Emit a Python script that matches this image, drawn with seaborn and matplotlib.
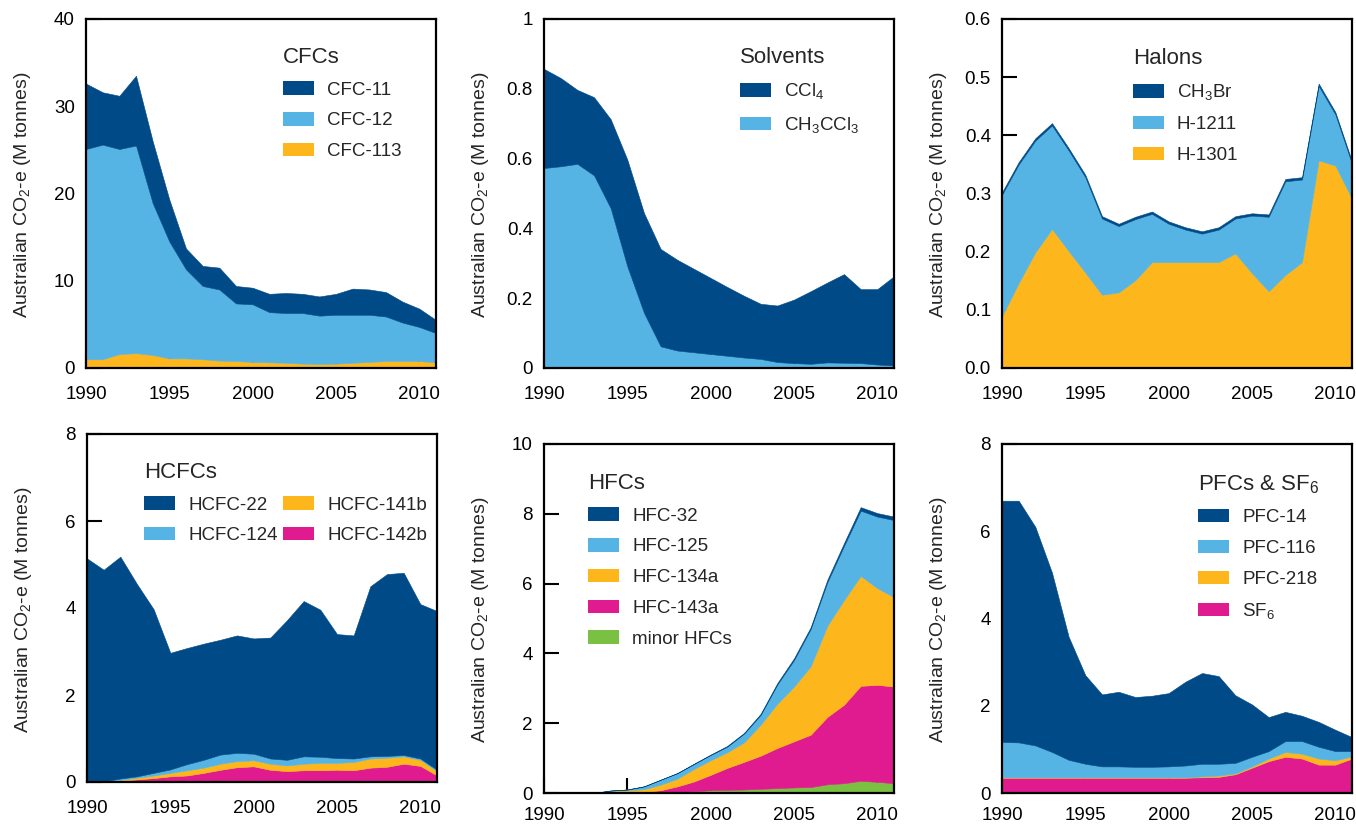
import matplotlib
matplotlib.use("Agg")
import matplotlib.pyplot as plt
from matplotlib.patches import Patch
from matplotlib.ticker import FixedLocator, FixedFormatter
import seaborn as sns

years = list(range(1990, 2012))

# CFCs (M tonnes CO2-e)
cfc_11 = [7.5, 6.0, 6.1, 8.0, 7.1, 4.8, 2.4, 2.3, 2.5, 2.0, 1.9, 2.1, 2.3, 2.2, 2.2, 2.4, 3.0, 2.9, 2.8, 2.4, 2.1, 1.5]
cfc_12 = [24.1, 24.6, 23.5, 23.8, 17.4, 13.4, 10.2, 8.4, 8.15, 6.6, 6.6, 5.75, 5.7, 5.8, 5.55, 5.6, 5.5, 5.4, 5.1, 4.4, 3.9, 3.35]
cfc_113 = [1.0, 1.0, 1.6, 1.7, 1.5, 1.1, 1.1, 1.0, 0.85, 0.8, 0.7, 0.65, 0.6, 0.5, 0.45, 0.5, 0.6, 0.7, 0.8, 0.8, 0.8, 0.65]

# solvents
ccl4 = [0.284, 0.253, 0.212, 0.224, 0.255, 0.306, 0.286, 0.279, 0.260, 0.239, 0.218, 0.197, 0.177, 0.158, 0.162, 0.182, 0.208, 0.229, 0.254, 0.212, 0.216, 0.256]
ch3ccl3 = [0.573, 0.578, 0.585, 0.552, 0.458, 0.291, 0.158, 0.062, 0.050, 0.045, 0.040, 0.035, 0.030, 0.026, 0.017, 0.014, 0.012, 0.016, 0.015, 0.014, 0.010, 0.007]

# halons
ch3br = [0.004] * 22
h_1211 = [0.209, 0.204, 0.192, 0.178, 0.173, 0.164, 0.131, 0.114, 0.105, 0.083, 0.066, 0.056, 0.049, 0.056, 0.060, 0.099, 0.128, 0.161, 0.142, 0.128, 0.088, 0.060]
h_1301 = [0.089, 0.146, 0.199, 0.239, 0.201, 0.164, 0.126, 0.130, 0.151, 0.182, 0.182, 0.182, 0.182, 0.182, 0.197, 0.163, 0.132, 0.160, 0.182, 0.357, 0.348, 0.291]

# HCFCs
hcfc_22 = [5.14, 4.865, 5.10, 4.42, 3.76, 2.68, 2.67, 2.67, 2.64, 2.70, 2.65, 2.78, 3.21, 3.57, 3.38, 2.85, 2.83, 3.91, 4.18, 4.19, 3.55, 3.65]
hcfc_124 = [0, 0.005, 0.03, 0.03, 0.06, 0.08, 0.14, 0.18, 0.21, 0.19, 0.15, 0.12, 0.13, 0.17, 0.14, 0.11, 0.08, 0.05, 0.04, 0.03, 0.03, 0.03]
hcfc_141b = [0, 0.005, 0.02, 0.04, 0.06, 0.08, 0.12, 0.12, 0.14, 0.14, 0.14, 0.14, 0.13, 0.15, 0.17, 0.16, 0.19, 0.21, 0.21, 0.17, 0.14, 0.10]
hcfc_142b = [0, 0.005, 0.03, 0.06, 0.09, 0.13, 0.15, 0.21, 0.28, 0.34, 0.36, 0.28, 0.25, 0.27, 0.27, 0.28, 0.27, 0.33, 0.35, 0.42, 0.37, 0.15]

# HFCs
hfc_32 = [0, 0, 0, 0, 0, 0, 0, 0, 0, 0.01, 0.01, 0.02, 0.02, 0.03, 0.04, 0.05, 0.05, 0.07, 0.08, 0.10, 0.10, 0.10]
hfc_125 = [0, 0, 0, 0, 0, 0.02, 0.08, 0.14, 0.16, 0.14, 0.15, 0.16, 0.25, 0.28, 0.55, 0.76, 1.07, 1.25, 1.55, 1.87, 2.05, 2.21]
hfc_134a = [0, 0, 0, 0, 0.07, 0.07, 0.08, 0.16, 0.22, 0.36, 0.42, 0.45, 0.56, 0.89, 1.27, 1.57, 1.96, 2.61, 3.00, 3.15, 2.77, 2.56]
hfc_143a = [0, 0, 0, 0, 0, 0.005, 0.02, 0.06, 0.16, 0.28, 0.44, 0.63, 0.79, 0.95, 1.15, 1.32, 1.50, 1.93, 2.25, 2.72, 2.78, 2.77]
minor_hfcs = [0, 0, 0, 0, 0, 0.005, 0.01, 0.02, 0.03, 0.05, 0.08, 0.09, 0.10, 0.12, 0.14, 0.16, 0.17, 0.25, 0.28, 0.35, 0.32, 0.28]

# PFCs & SF6
pfc_14 = [5.53, 5.54, 5.01, 4.11, 2.82, 2.03, 1.65, 1.71, 1.60, 1.63, 1.68, 1.92, 2.08, 2.01, 1.55, 1.20, 0.78, 0.67, 0.58, 0.57, 0.49, 0.32]
pfc_116 = [0.81, 0.80, 0.73, 0.58, 0.40, 0.31, 0.25, 0.25, 0.24, 0.24, 0.25, 0.27, 0.29, 0.27, 0.24, 0.22, 0.17, 0.25, 0.29, 0.27, 0.21, 0.12]
pfc_218 = [0.01] * 12 + [0.02, 0.03, 0.02, 0.03, 0.06, 0.11, 0.11, 0.14, 0.10, 0.05]
sf6 = [0.35] * 12 + [0.36, 0.37, 0.43, 0.58, 0.73, 0.83, 0.79, 0.65, 0.65, 0.79]

# colours
dark_blue = "#004a87"
light_blue = "#56b4e4"
orange = "#fdb71c"
magenta = "#e01a8f"
green = "#7ac143"

sns.set_theme(style="ticks")
plt.rcParams["font.family"] = ["Liberation Sans", "DejaVu Sans"]
plt.rcParams["mathtext.fontset"] = "custom"
plt.rcParams["mathtext.rm"] = "Liberation Sans"
plt.rcParams["mathtext.it"] = "Liberation Sans:italic"
plt.rcParams["mathtext.bf"] = "Liberation Sans:bold"

fig = plt.figure(figsize=(13.56, 8.27), dpi=100)
W, H = 1356, 827


def panel(rect_px, series, labels, colors, ylim, yticks, yticklabels, title,
          leg_xy, ncol=1, colsp=0.6, xpad=13):
    x0, top, w, h = rect_px
    ax = fig.add_axes([x0 / W, 1 - (top + h) / H, w / W, h / H])
    # series are in legend order (top of stack first); stack bottom first
    ax.stackplot(years, *series[::-1], colors=colors[::-1],
                 linewidth=0.4, edgecolor="face")
    ax.set_xlim(1990, 2011)
    ax.set_ylim(*ylim)
    ax.xaxis.set_major_locator(FixedLocator([1990, 1995, 2000, 2005, 2010]))
    ax.yaxis.set_major_locator(FixedLocator(yticks))
    ax.yaxis.set_major_formatter(FixedFormatter(yticklabels))
    ax.tick_params(axis="both", direction="in", length=11, width=1.5,
                   labelsize=13.5, colors="black")
    ax.tick_params(axis="x", pad=xpad)
    ax.tick_params(axis="y", pad=8)
    for s in ax.spines.values():
        s.set_linewidth(1.6)
        s.set_color("black")
    ax.set_ylabel("Australian CO$_2$-e (M tonnes)", fontsize=14)
    ax.yaxis.set_label_coords(-0.152, 0.495)
    handles = [Patch(facecolor=c, edgecolor="none") for c in colors]
    ax.legend(handles, labels, title=title, loc="upper left",
              bbox_to_anchor=leg_xy, frameon=False, ncol=ncol,
              fontsize=13.5, title_fontsize=16, borderpad=0,
              borderaxespad=0, handlelength=1.65, handleheight=0.72,
              handletextpad=0.7, labelspacing=0.72, columnspacing=colsp,
              alignment="left")
    return ax


# top row
panel((86, 19, 350, 349), [cfc_11, cfc_12, cfc_113],
      ["CFC-11", "CFC-12", "CFC-113"], [dark_blue, light_blue, orange],
      (0, 40), [0, 10, 20, 30, 40], ["0", "10", "20", "30", "40"],
      "CFCs", (0.563, 0.92))

panel((544, 19, 350, 349), [ccl4, ch3ccl3],
      ["CCl$_4$", "CH$_3$CCl$_3$"], [dark_blue, light_blue],
      (0, 1), [0, 0.2, 0.4, 0.6, 0.8, 1], ["0", "0.2", "0.4", "0.6", "0.8", "1"],
      "Solvents", (0.56, 0.92))

panel((1002, 19, 350, 349), [ch3br, h_1211, h_1301],
      ["CH$_3$Br", "H-1211", "H-1301"], [dark_blue, light_blue, orange],
      (0, 0.6), [0, 0.1, 0.2, 0.3, 0.4, 0.5, 0.6],
      ["0.0", "0.1", "0.2", "0.3", "0.4", "0.5", "0.6"],
      "Halons", (0.374, 0.917))

# bottom row
panel((87, 434, 350, 348), [hcfc_22, hcfc_124, hcfc_141b, hcfc_142b],
      ["HCFC-22", "HCFC-124", "HCFC-141b", "HCFC-142b"],
      [dark_blue, light_blue, orange, magenta],
      (0, 8), [0, 2, 4, 6, 8], ["0", "2", "4", "6", "8"],
      "HCFCs", (0.163, 0.92), ncol=2, colsp=0.3)

panel((544, 444, 350, 349), [hfc_32, hfc_125, hfc_134a, hfc_143a, minor_hfcs],
      ["HFC-32", "HFC-125", "HFC-134a", "HFC-143a", "minor HFCs"],
      [dark_blue, light_blue, orange, magenta, green],
      (0, 10), [0, 2, 4, 6, 8, 10], ["0", "2", "4", "6", "8", "10"],
      "HFCs", (0.126, 0.917), xpad=10)

panel((1002, 444, 350, 349), [pfc_14, pfc_116, pfc_218, sf6],
      ["PFC-14", "PFC-116", "PFC-218", "SF$_6$"],
      [dark_blue, light_blue, orange, magenta],
      (0, 8), [0, 2, 4, 6, 8], ["0", "2", "4", "6", "8"],
      "PFCs & SF$_6$", (0.56, 0.917), xpad=10)

fig.savefig("out.png", dpi=100)
